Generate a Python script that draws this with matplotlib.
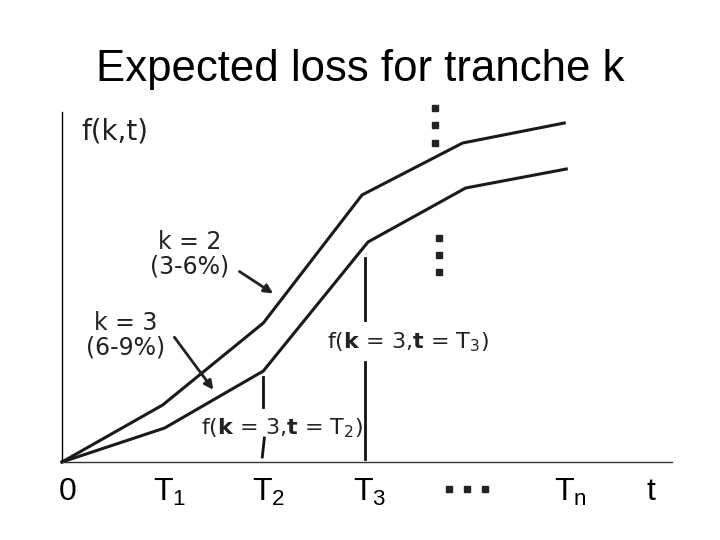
import matplotlib.pyplot as plt

plt.rcParams["mathtext.default"] = "regular"
plt.rcParams["mathtext.fontset"] = "dejavusans"

# knee points of the two expected-loss curves (t in units of T_i)
t_k2 = [0, 1.00, 2.00, 2.98, 3.98, 4.99]
loss_k2 = [0, 0.57, 1.39, 2.67, 3.19, 3.39]
t_k3 = [0, 1.02, 2.00, 3.04, 4.01, 5.01]
loss_k3 = [0, 0.34, 0.91, 2.20, 2.74, 2.93]

tick_pos = [0.06, 1.07, 2.05, 3.06, 5.05, 5.85]
tick_labels = ["0", "T$_1$", "T$_2$", "T$_3$", "T$_n$", "t"]

# "..." marks
dots_top_x = [3.71, 3.71, 3.71]
dots_top_y = [3.54, 3.37, 3.19]
dots_mid_x = [3.75, 3.75, 3.75]
dots_mid_y = [2.24, 2.07, 1.90]
dots_axis_x = [3.84, 4.02, 4.20]
dots_axis_y = [-0.27, -0.27, -0.27]

# marker segments at T2 and T3 (broken around the labels)
seg_t2 = [([2.00, 2.00], [0.85, 0.55]), ([2.01, 1.99], [0.24, 0.05])]
seg_t3 = [([3.01, 3.01], [2.04, 1.42]), ([3.01, 3.01], [1.00, 0.03])]

fig = plt.figure(figsize=(7.2, 5.4), dpi=100)
ax = fig.add_axes([62 / 720, 78 / 540, 610 / 720, 350 / 540])
ax.set_xlim(0, 6.06)
ax.set_ylim(0, 3.5)

for side in ["top", "right"]:
    ax.spines[side].set_visible(False)
ax.spines["left"].set_linewidth(1.0)
ax.spines["bottom"].set_linewidth(1.0)
ax.spines["bottom"].set_color("#333333")

ax.plot(t_k2, loss_k2, color="#1a1a1a", lw=2.2, clip_on=False)
ax.plot(t_k3, loss_k3, color="#1a1a1a", lw=2.2, clip_on=False)

for xs, ys in seg_t2 + seg_t3:
    ax.plot(xs, ys, color="#111111", lw=2.0)

for xs, ys in [(dots_top_x, dots_top_y), (dots_mid_x, dots_mid_y), (dots_axis_x, dots_axis_y)]:
    ax.plot(xs, ys, ls="none", marker="s", ms=5, color="#222222", clip_on=False)

ax.set_yticks([])
ax.set_xticks(tick_pos, tick_labels)
ax.tick_params(axis="x", length=0, pad=11, labelsize=23)
for lbl in ax.get_xticklabels():
    lbl.set_family("Liberation Sans")

fig.text(0.5, 0.872, "Expected loss for tranche k", ha="center", va="center",
         fontsize=31.5, family="Liberation Sans")

ax.text(0.19, 3.31, "f(k,t)", fontsize=20, ha="left", va="center", color="#222222")

ax.text(1.27, 2.08, "k = 2\n(3-6%)", fontsize=17, ha="center", va="center",
        linespacing=1.05, color="#222222")
ax.text(0.63, 1.27, "k = 3\n(6-9%)", fontsize=17, ha="center", va="center",
        linespacing=1.05, color="#222222")

arrow = dict(arrowstyle="-|>", color="#222222", lw=2.0, mutation_scale=13)
ax.annotate("", xy=(2.12, 1.67), xytext=(1.74, 1.92), arrowprops=arrow)
ax.annotate("", xy=(1.52, 0.70), xytext=(1.10, 1.27), arrowprops=arrow)

ax.text(3.44, 1.20, r"f($\mathbf{k}$ = 3,$\mathbf{t}$ = T$_3$)", fontsize=16,
        ha="center", va="center", color="#222222")
ax.text(2.18, 0.34, r"f($\mathbf{k}$ = 3,$\mathbf{t}$ = T$_2$)", fontsize=16,
        ha="center", va="center", color="#222222")

fig.savefig("out.png", dpi=100)
